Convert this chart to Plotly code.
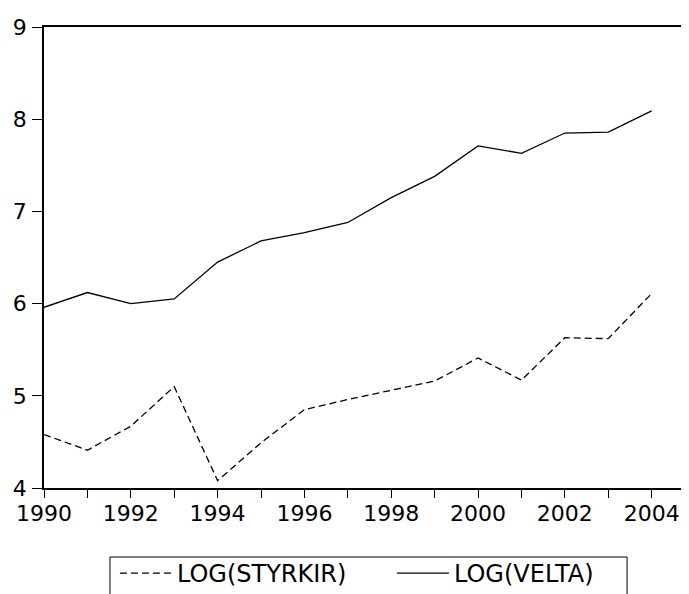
import plotly.graph_objects as go

years = list(range(1990, 2005))
log_styrkir = [4.58, 4.41, 4.67, 5.10, 4.08, 4.49, 4.85, 4.96, 5.06, 5.16, 5.41, 5.17, 5.63, 5.62, 6.11]
log_velta = [5.96, 6.12, 6.00, 6.05, 6.45, 6.68, 6.77, 6.88, 7.15, 7.38, 7.71, 7.63, 7.85, 7.86, 8.09]
x_tick_vals = [1990, 1992, 1994, 1996, 1998, 2000, 2002, 2004]
y_tick_vals = [4, 5, 6, 7, 8, 9]

FONT = "DejaVu Sans, Liberation Sans, Arial, sans-serif"

fig = go.Figure()
fig.add_trace(go.Scatter(
    x=years, y=log_styrkir, mode="lines", name="LOG(STYRKIR)",
    line=dict(color="black", width=1.3, dash="7px,4px"),
))
fig.add_trace(go.Scatter(
    x=years, y=log_velta, mode="lines", name="LOG(VELTA)",
    line=dict(color="black", width=1.3),
))

# page body has a default 8px margin: size the figure so it fits the window
fig.update_layout(
    width=681, height=586,
    margin=dict(l=36, r=0, t=19, b=106),
    paper_bgcolor="white", plot_bgcolor="white",
    font=dict(family=FONT, size=22, color="black"),
    showlegend=True,
    legend=dict(
        orientation="h", x=0.110, xanchor="left",
        yref="container", y=0.0734, yanchor="top",
        borderwidth=0, bgcolor="rgba(0,0,0,0)",
        font=dict(family=FONT, size=24, color="black"),
        itemwidth=52,
        entrywidth=210, entrywidthmode="pixels",
    ),
    shapes=[dict(
        type="rect", xref="paper", yref="paper",
        x0=0.1023, x1=0.904, y0=-0.30, y1=-0.1497,
        line=dict(color="black", width=1), fillcolor="rgba(0,0,0,0)",
    )],
    xaxis=dict(
        range=[1990, 2004.86], tickvals=x_tick_vals, automargin=False,
        ticks="outside", ticklen=8, tickwidth=1.3, tickcolor="black",
        ticklabelstandoff=-3,
        minor=dict(dtick=1, tick0=1990, ticks="outside", ticklen=8, tickwidth=1.3, tickcolor="black"),
        showline=True, linecolor="black", linewidth=1.5, mirror=True,
        showgrid=False, zeroline=False,
    ),
    yaxis=dict(
        range=[4, 9], tickvals=y_tick_vals, automargin=False,
        ticks="outside", ticklen=10, tickwidth=1.3, tickcolor="black",
        ticklabelstandoff=1,
        showline=True, linecolor="black", linewidth=1.5, mirror=False,
        showgrid=False, zeroline=False,
    ),
)

fig.write_html("out.html")
